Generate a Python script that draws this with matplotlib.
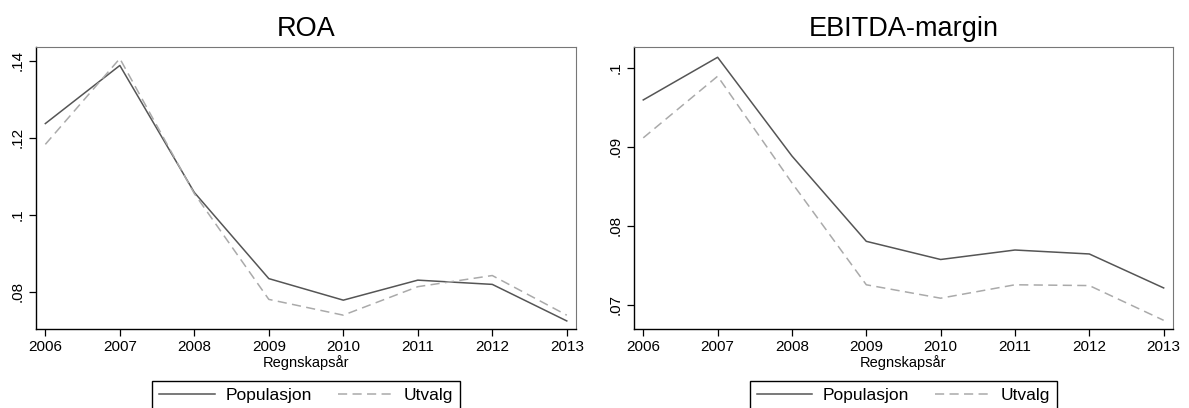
import matplotlib
matplotlib.use("Agg")
import matplotlib.pyplot as plt

plt.rcParams['font.family'] = ['Liberation Sans', 'DejaVu Sans']

years = [2006, 2007, 2008, 2009, 2010, 2011, 2012, 2013]

roa_pop = [0.1237, 0.1388, 0.1058, 0.0834, 0.0778, 0.0830, 0.0819, 0.0724]
roa_utv = [0.1183, 0.1406, 0.1055, 0.0780, 0.0739, 0.0813, 0.0842, 0.0739]

ebitda_pop = [0.0959, 0.1013, 0.0888, 0.0780, 0.0757, 0.0769, 0.0764, 0.0721]
ebitda_utv = [0.0911, 0.0989, 0.0854, 0.0725, 0.0708, 0.0725, 0.0724, 0.0680]

panels = [
    ("ROA", roa_pop, roa_utv, [0.08, 0.10, 0.12, 0.14], [".08", ".1", ".12", ".14"], (0.0703, 0.1436)),
    ("EBITDA-margin", ebitda_pop, ebitda_utv, [0.07, 0.08, 0.09, 0.10], [".07", ".08", ".09", ".1"], (0.0669, 0.1026)),
]

fig = plt.figure(figsize=(11.89, 4.08), dpi=100)
positions = [[0.0303, 0.1936, 0.4542, 0.6912], [0.5332, 0.1936, 0.4533, 0.6912]]

for pos, (title, pop, utv, yt, ytl, ylim) in zip(positions, panels):
    ax = fig.add_axes(pos)
    ax.plot(years, pop, color="#555555", lw=1.1, label="Populasjon")
    ax.plot(years, utv, color="#aaaaaa", lw=1.1, dashes=(6, 3.5), label="Utvalg")
    ax.set_xlim(2005.875, 2013.125)
    ax.set_ylim(*ylim)
    ax.set_xticks(years)
    ax.set_xticklabels([str(y) for y in years], fontsize=11)
    ax.set_yticks(yt)
    ax.set_yticklabels(ytl, fontsize=11, rotation=90, va="center")
    ax.tick_params(direction="out", length=5, width=0.9, color="black", pad=3)
    ax.set_xlabel("Regnskapsår", fontsize=10.5, labelpad=1)
    ax.set_title(title, fontsize=19.5, pad=8)
    for side in ["left", "bottom"]:
        ax.spines[side].set_color("black")
        ax.spines[side].set_linewidth(1.0)
    for side in ["top", "right"]:
        ax.spines[side].set_color("#777777")
        ax.spines[side].set_linewidth(0.8)
    leg = ax.legend(loc="upper center", bbox_to_anchor=(0.5, -0.183), ncol=2,
                    fontsize=12.5, handlelength=3.2, handletextpad=0.6,
                    columnspacing=1.5, borderpad=0.4, borderaxespad=0,
                    fancybox=False, edgecolor="black", framealpha=1)
    leg.get_frame().set_linewidth(1.0)

fig.savefig("out.png", dpi=100)
